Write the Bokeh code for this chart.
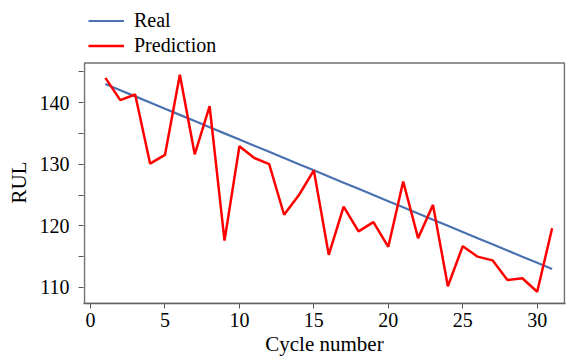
from bokeh.plotting import figure
from bokeh.models import Range1d, FixedTicker, Legend, LegendItem, BoxAnnotation, Title
from bokeh.embed import file_html
from bokeh.resources import INLINE

cycles = list(range(1, 32))
real = [143, 142, 141, 140, 139, 138, 137, 136, 135, 134, 133, 132, 131, 130, 129, 128,
        127, 126, 125, 124, 123, 122, 121, 120, 119, 118, 117, 116, 115, 114, 113]
prediction = [144.0, 140.4, 141.3, 130.1, 131.5, 144.5, 131.6, 139.4, 117.6, 132.9, 131.0,
              130.0, 121.8, 125.0, 129.0, 115.3, 123.1, 119.1, 120.6, 116.6, 127.2, 118.0,
              123.4, 110.2, 116.7, 115.0, 114.4, 111.2, 111.5, 109.3, 119.6]
x_ticks = [0, 5, 10, 15, 20, 25, 30]
y_ticks = [110, 115, 120, 125, 130, 135, 140, 145]
y_labels = {110: "110", 115: "", 120: "120", 125: "", 130: "130", 135: "", 140: "140", 145: ""}

X0, X1 = -0.47, 31.9
Y0, Y1 = 107.4, 146.4
FRAME_W = 482      # pixel width of the data box
FRAME_H = 242      # pixel height of the data box
TOTAL_H = 305      # frame extended to the top of the canvas to host the legend
Y_TOP = Y0 + (Y1 - Y0) * TOTAL_H / FRAME_H
PX = (X1 - X0) / FRAME_W

FONT = "Liberation Serif"

p = figure(width=567, height=358, output_backend="svg", toolbar_location=None,
           x_range=Range1d(X0, X1), y_range=Range1d(Y0, Y_TOP),
           min_border_left=83, min_border_right=2, min_border_top=0, min_border_bottom=53)
p.grid.visible = False
p.outline_line_color = None

box = BoxAnnotation(left=X0 + 1.0 * PX, right=X1 - 1.0 * PX, bottom=Y0, top=Y1,
                    fill_alpha=0, line_color="#707070", line_alpha=1.0, line_width=1.5)
p.add_layout(box)

r_real = p.line(cycles, real, line_color="#4a72b0", line_width=2.2)
r_pred = p.line(cycles, prediction, line_color="#ff0000", line_width=2.5)

for ax in (p.xaxis[0], p.yaxis[0]):
    ax.axis_line_color = "#555555"
    ax.axis_line_width = 1.5
    ax.major_tick_line_color = "#555555"
    ax.major_tick_out = 5
    ax.major_tick_in = 0
    ax.minor_tick_line_color = None
    ax.major_label_text_font = FONT
    ax.major_label_text_font_size = "20px"
    ax.major_label_text_color = "black"
    ax.axis_label_text_font = FONT
    ax.axis_label_text_font_size = "21px"
    ax.axis_label_text_font_style = "normal"
    ax.axis_label_text_color = "black"

p.xaxis.ticker = FixedTicker(ticks=x_ticks)
p.xaxis.axis_label = "Cycle number"
p.xaxis.major_label_standoff = 4
p.xaxis.axis_label_standoff = 2

p.yaxis.ticker = FixedTicker(ticks=y_ticks)
p.yaxis.major_label_overrides = y_labels
p.yaxis.axis_line_color = None
p.yaxis.major_label_standoff = 9

p.add_layout(Title(text="RUL", align="left", offset=100, text_font=FONT,
                   text_font_size="21px", text_font_style="normal",
                   text_color="black", vertical_align="middle"), "left")

legend = Legend(items=[LegendItem(label="Real", renderers=[r_real]),
                       LegendItem(label="Prediction", renderers=[r_pred])],
                location=(0, 240), padding=5, margin=0, spacing=0,
                glyph_width=36, glyph_height=25, label_height=25, label_standoff=10,
                label_text_font=FONT, label_text_font_size="20px", label_text_color="black",
                border_line_alpha=0, background_fill_alpha=0)
p.add_layout(legend)

open("out.html", "w").write(file_html(p, INLINE))
